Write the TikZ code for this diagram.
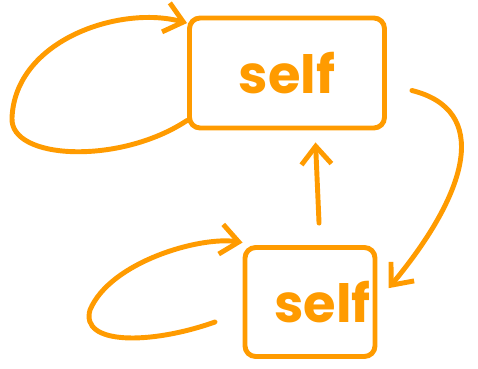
\documentclass[tikz,border=0pt]{standalone}
\usepackage{fontspec}
\setsansfont{Poppins}
\usetikzlibrary{positioning,arrows.meta,calc}
\definecolor{SketchOrange}{RGB}{255,155,0}
\tikzset{
  flow/.style={-{Straight Barb[length=3.6mm,width=6mm]},line width=2.8pt,draw=SketchOrange,line cap=round},
  selfbox/.style={draw=SketchOrange,line width=2.8pt,rounded corners=6pt,
    text=SketchOrange,font=\sffamily\bfseries\fontsize{30}{30}\selectfont,inner sep=0pt}
}
\begin{document}
\begin{tikzpicture}[x=0.02cm,y=-0.02cm]
  \useasboundingbox (0,0) rectangle (478,369);
  \node[selfbox,minimum width=3.9cm,minimum height=2.2cm] (top) at (287,73) {self};
  \node[selfbox,minimum width=2.6cm,minimum height=2.18cm] (bot) at (310,302) {\hspace*{0.5cm}self};
  % loops back to each box
  \draw[flow] ([yshift=0.2cm]top.south west) .. controls (120,165) and (10,160) .. (12,118)
    .. controls (15,40) and (120,5) .. ([yshift=-0.15cm]top.north west);
  \draw[flow] (215,322) .. controls (150,345) and (80,345) .. (90,310)
    .. controls (110,262) and (200,236) .. ([yshift=0.05cm]bot.north west);
  % between the boxes
  \draw[flow,shorten <=0.44cm,shorten >=0.24cm] ([xshift=0.2cm]bot.north) -- ([xshift=0.56cm]top.south);
  \draw[flow,shorten >=0.1cm] ([shift={(0.5cm,-0.35cm)}]top.east) .. controls (490,110) and (470,190)
    .. ([shift={(0.16cm,0.2cm)}]bot.east);
\end{tikzpicture}
\end{document}
